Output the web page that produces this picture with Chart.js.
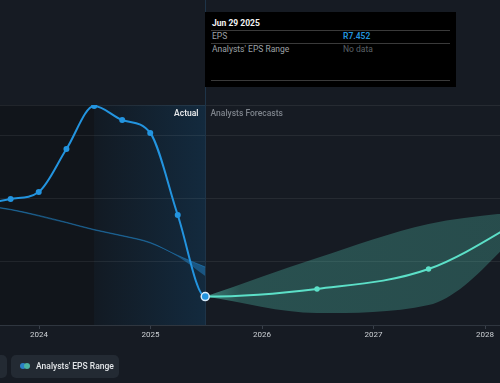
<!DOCTYPE html>
<html><head><meta charset="utf-8">
<script src="https://cdn.jsdelivr.net/npm/chart.js@4/dist/chart.umd.min.js"></script>
<style>
html,body{margin:0;padding:0;background:#161b23;}
#wrap{position:relative;width:500px;height:383px;overflow:hidden;font-family:Roboto,'Noto Sans',sans-serif;background:#161b23;}
canvas{position:absolute;left:0;top:0;}
.tip{position:absolute;left:205px;top:12px;width:251px;height:75px;background:#000;}
.tip .t{position:absolute;left:7px;top:5px;font-size:8.5px;line-height:12px;font-weight:700;color:#f2f2f2;}
.tip .sep{position:absolute;left:6px;width:239px;height:1px;background:#3a3a3a;}
.tip .lab{position:absolute;left:7px;font-size:8.5px;line-height:12px;color:#9da1a6;}
.tip .val{position:absolute;left:138px;font-size:8.5px;line-height:12px;}
.pill{position:absolute;top:355px;height:23px;background:#232a33;border-radius:5px;}
.pill .txt{position:absolute;left:25px;top:0;line-height:23px;font-size:8.5px;font-weight:500;color:#e2e5e8;white-space:nowrap;}
.dot{position:absolute;top:8px;width:6px;height:6px;border-radius:50%;}
</style></head><body>
<div id="wrap">
<canvas id="c" width="500" height="383"></canvas>
<div class="tip">
  <div class="t" id="tipTitle"></div>
  <div class="sep" style="top:18px"></div>
  <div class="lab" style="top:18px">EPS</div>
  <div class="val" id="tipVal" style="top:18px;color:#2394df;font-weight:600"></div>
  <div class="sep" style="top:31px"></div>
  <div class="lab" style="top:31px">Analysts' EPS Range</div>
  <div class="val" style="top:31px;color:#5b6067">No data</div>
  <div class="sep" style="top:68px"></div>
</div>
<div class="pill" style="left:-60px;width:67px"></div>
<div class="pill" style="left:11px;width:108px">
  <span class="dot" style="left:9px;background:#2a7fc5"></span>
  <span class="dot" style="left:13px;background:#4cb3a0"></span>
  <span class="txt">Analysts' EPS Range</span>
</div>
</div>
<script>
// ---- data ----
const actualDates = ['2023-06-30','2023-09-30','2023-12-31','2024-03-31','2024-06-30','2024-09-30','2024-12-31','2025-03-31','2025-06-29'];
const actualEps   = [14.8, 15.2, 15.76, 19.17, 22.58, 21.47, 20.44, 13.93, 7.452];
const forecastDates = ['2026-06-30','2027-06-30','2028-06-30'];
const forecastEps   = [8.06, 9.64, 14.4];
const forecastHigh  = [10.52, 13.22, 14.4];
const forecastLow   = [6.15, 6.79, 14.1];
const pastRangeHigh = [14.72, 14.38, 13.90, 13.35, 12.78, 12.30, 11.75, 10.72, 9.80];
const pastRangeLow  = [14.68, 14.30, 13.82, 13.27, 12.70, 12.22, 11.67, 10.64, 9.09];
const xTickYears = [2024, 2025, 2026, 2027, 2028];
const yGridValues = [10.2, 15.2, 20.2];
const highlightStartDate = '2024-06-30';
const tooltipTitle = 'Jun 29 2025';
const currency = 'R';

// ---- helpers ----
function toYear(s){const [y,m,d]=s.split('-').map(Number);const t=Date.UTC(y,m-1,d),a=Date.UTC(y,0,1),b=Date.UTC(y+1,0,1);return y+(t-a)/(b-a);}
const pts=(dates,vals)=>dates.map((d,i)=>({x:toYear(d),y:vals[i]}));

const BLUE='#2394df', TEAL='#5ce0c8';
const nA = actualDates.length;
const lastActualDate = actualDates[nA-1];
const lastActual = actualEps[nA-1];
const splitX = toYear(lastActualDate);
const hlStartX = toYear(highlightStartDate);
const epsDates = actualDates.concat(forecastDates);
const epsValues = actualEps.concat(forecastEps);
const fcDates = [lastActualDate].concat(forecastDates);

document.getElementById('tipTitle').textContent = tooltipTitle;
document.getElementById('tipVal').textContent = currency + lastActual.toFixed(3);

const xMin = 2023.65, xMax = 2028.134, yMin = 5.2, yMax = 22.66;

const bgPlugin = {
  id:'bg',
  beforeDraw(chart){
    const {ctx, chartArea:a, scales:{x}} = chart;
    ctx.save();
    ctx.fillStyle='#161b23'; ctx.fillRect(0,0,chart.width,chart.height);
    const xs = x.getPixelForValue(hlStartX), xe = x.getPixelForValue(splitX);
    ctx.fillStyle='#11151b'; ctx.fillRect(a.left,a.top,xs-a.left,a.bottom-a.top);
    const g = ctx.createLinearGradient(xs,0,xe,0);
    g.addColorStop(0,'#121a23'); g.addColorStop(1,'#132a3e');
    ctx.fillStyle=g; ctx.fillRect(xs,a.top,xe-xs,a.bottom-a.top);
    ctx.restore();
  },
  beforeDatasetsDraw(chart){
    const {ctx, chartArea:a, scales:{x}} = chart;
    const xe = Math.round(x.getPixelForValue(splitX))+0.5;
    ctx.save();
    ctx.strokeStyle='#1e3448'; ctx.lineWidth=1;
    ctx.beginPath(); ctx.moveTo(xe,0); ctx.lineTo(xe,a.bottom); ctx.stroke();
    ctx.font='600 8.5px Roboto'; ctx.textBaseline='middle';
    ctx.textAlign='right'; ctx.fillStyle='#e6e8ea'; ctx.fillText('Actual', xe-7, a.top+8.5);
    ctx.textAlign='left'; ctx.font='500 8.5px Roboto'; ctx.fillStyle='#7d838b'; ctx.fillText('Analysts Forecasts', xe+5, a.top+8.5);
    ctx.restore();
  }
};

function tealGrad(ctx){
  const ch = ctx.chart; const a = ch.chartArea; if(!a) return 'rgba(92,224,200,0.27)';
  const xs = ch.scales.x.getPixelForValue(splitX);
  const g = ch.ctx.createLinearGradient(xs,0,a.right,0);
  g.addColorStop(0,'rgba(92,224,200,0.5)'); g.addColorStop(0.12,'rgba(92,224,200,0.27)'); g.addColorStop(1,'rgba(92,224,200,0.25)');
  return g;
}

new Chart(document.getElementById('c'),{
  type:'line',
  data:{datasets:[
    {label:'EPS', data:pts(epsDates,epsValues), order:0, borderWidth:2, fill:false,
     segment:{borderColor:c=>c.p0DataIndex>=nA-1?TEAL:BLUE},
     pointRadius:c=>c.dataIndex===nA-1?4:(c.dataIndex<nA?3:2.7),
     pointBackgroundColor:c=>c.dataIndex<nA?BLUE:TEAL,
     pointBorderColor:c=>c.dataIndex===nA-1?'#d9ecfb':(c.dataIndex<nA?BLUE:TEAL),
     pointBorderWidth:c=>c.dataIndex===nA-1?1.5:0},
    {label:'pastHigh', data:pts(actualDates,pastRangeHigh), order:3, borderColor:'rgba(35,148,223,0.45)', borderWidth:1, pointRadius:0, fill:false},
    {label:'pastLow', data:pts(actualDates,pastRangeLow), order:4, borderColor:'rgba(35,148,223,0.0)', borderWidth:0, pointRadius:0, fill:'-1', backgroundColor:'rgba(35,148,223,0.42)'},
    {label:'fcHigh', data:pts(fcDates,[lastActual].concat(forecastHigh)), order:1, borderWidth:0, borderColor:'rgba(0,0,0,0)', pointRadius:0, fill:false},
    {label:'fcLow', data:pts(fcDates,[lastActual].concat(forecastLow)), order:2, borderWidth:0, borderColor:'rgba(0,0,0,0)', pointRadius:0, fill:'-1', backgroundColor:tealGrad}
  ]},
  options:{
    responsive:false, animation:false, devicePixelRatio:1,
    layout:{autoPadding:false, padding:{top:105,bottom:38,left:0,right:0}},
    plugins:{legend:{display:false},tooltip:{enabled:false}},
    elements:{line:{cubicInterpolationMode:'monotone'}},
    scales:{
      x:{type:'linear',min:xMin,max:xMax,
         afterBuildTicks:s=>{s.ticks=xTickYears.map(v=>({value:v}));},
         afterFit:s=>{s.height=20;s.paddingLeft=0;s.paddingRight=0;},
         ticks:{callback:v=>String(v),color:'#cdd1d5',font:{family:'Roboto',size:8},padding:1,maxRotation:0,autoSkip:false},
         grid:{drawOnChartArea:false,drawTicks:true,tickLength:4,color:'#39404a'},
         border:{display:true,color:'#2f363f'}},
      y:{min:yMin,max:yMax,
         afterBuildTicks:s=>{s.ticks=[yMin].concat(yGridValues,[yMax]).map(v=>({value:v}));},
         afterFit:s=>{s.width=0;s.paddingTop=0;s.paddingBottom=0;},
         ticks:{display:false},
         grid:{color:'rgba(255,255,255,0.07)',drawTicks:false},
         border:{display:false}}
    }
  },
  plugins:[bgPlugin]
});
</script>
</body></html>
